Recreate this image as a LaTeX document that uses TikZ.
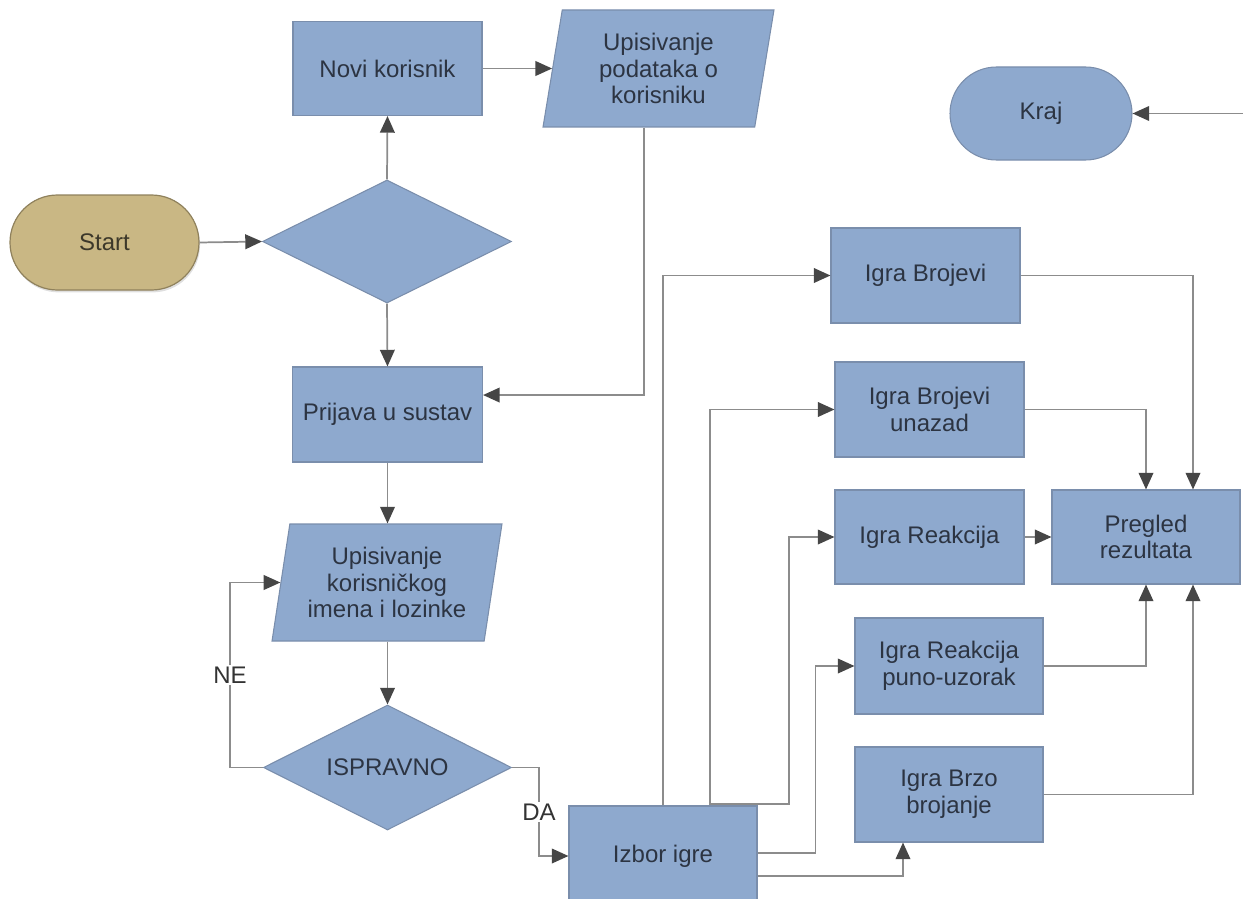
\documentclass[tikz,border=0pt]{standalone}
\usepackage{fontspec}
\setmainfont{Liberation Sans}
\usetikzlibrary{shapes.geometric,shapes.misc,arrows.meta,shadows}
\definecolor{boxfill}{RGB}{142,169,206}
\definecolor{boxborder}{RGB}{122,142,172}
\definecolor{startfill}{RGB}{201,183,132}
\definecolor{startborder}{RGB}{143,129,92}
\definecolor{txt}{RGB}{44,52,66}
\definecolor{starttxt}{RGB}{60,56,42}
\definecolor{linegray}{RGB}{140,140,140}
\definecolor{arrowdark}{RGB}{70,70,70}
\begin{document}
\begin{tikzpicture}[x=0.75pt,y=-0.75pt,
  font=\fontsize{18pt}{20pt}\selectfont,
  sz/.style 2 args={minimum width=#1*0.75pt, minimum height=#2*0.75pt},
  box/.style={rectangle, fill=boxfill, draw=boxborder, line width=0.8pt, text=txt, align=center, inner sep=0pt},
  term/.style={rounded rectangle, fill=boxfill, draw=boxborder, line width=0.8pt, text=txt, inner sep=0pt},
  startterm/.style={rounded rectangle, fill=startfill, draw=startborder, line width=0.9pt, text=starttxt, inner sep=0pt,
    drop shadow={opacity=0.25, shadow xshift=0.8pt, shadow yshift=-1.8pt}},
  dia/.style={diamond, aspect=2, fill=boxfill, draw=boxborder, line width=0.8pt, text=txt, inner sep=0pt},
  para/.style={trapezium, trapezium stretches=true, fill=boxfill, draw=boxborder, line width=0.8pt, text=txt, align=center, inner sep=0pt},
  conn/.style={draw=linegray, line width=1.3pt, -{Triangle[length=12.5pt,width=11pt,color=arrowdark]}},
  lbl/.style={fill=white, inner sep=1.5pt, text=black!80}
]
\useasboundingbox (0,0) rectangle (1243,899);

% nodes
\node[startterm, sz={189}{95}] (start) at (104.5,242.5) {Start};
\node[dia, sz={249}{123}] (d1) at (387,241.5) {};
\node[box, sz={189}{94}] (novi) at (387.5,68.5) {Novi korisnik};
\node[para, sz={231}{117}, trapezium left angle=80.5, trapezium right angle=99.5] (u1) at (658.5,68.5) {Upisivanje\\podataka o\\korisniku};
\node[term, sz={182}{93}] (kraj) at (1041,113.5) {Kraj};
\node[box, sz={190}{95}] (prijava) at (387.5,414.5) {Prijava u sustav};
\node[para, sz={230}{117}, trapezium left angle=78.4, trapezium right angle=101.6] (u2) at (387,582.5) {Upisivanje\\korisničkog\\imena i lozinke};
\node[dia, sz={248}{125}] (isp) at (387.5,767.5) {ISPRAVNO};
\node[box, sz={188}{100}] (izbor) at (663,856) {Izbor igre};
\node[box, sz={189}{95}] (b1) at (925.5,275.5) {Igra Brojevi};
\node[box, sz={189}{95}] (b2) at (929.5,409.5) {Igra Brojevi\\unazad};
\node[box, sz={189}{94}] (b3) at (929.5,537) {Igra Reakcija};
\node[box, sz={188}{96}] (b4) at (949,666) {Igra Reakcija\\puno-uzorak};
\node[box, sz={188}{95}] (b5) at (949,794.5) {Igra Brzo\\brojanje};
\node[box, sz={188}{94}] (preg) at (1146,537) {Pregled\\rezultata};
\coordinate (kin) at (1243,113.5);

% connectors
\draw[conn] (start.east) -- (d1.west);
\draw[conn] (d1.north) -- (novi.south);
\draw[conn] (novi.east) -- (u1.left side);
\draw[conn] ([xshift=-10.9pt]u1.south) |- ([yshift=14.6pt]prijava.east);
\draw[conn] (d1.south) -- (prijava.north);
\draw[conn] (prijava.south) -- (prijava.south |- u2.north);
\draw[conn] (isp.north |- u2.south) -- (isp.north);
\draw[conn] (isp.west) -- ++(-33,0) |- node[lbl, pos=0.25] {NE} (u2.left side);
\draw[conn] (isp.east) -- ++(27,0) |- node[lbl, pos=0.25] {DA} (izbor.west);
\draw[conn] (izbor.north) |- (b1.west);
\draw[conn] ([xshift=35.25pt]izbor.north) |- (b2.west);
\draw[conn] ([xshift=35.25pt,yshift=1pt]izbor.north) -- ++(79,0) |- (b3.west);
\draw[conn] ([yshift=2.25pt]izbor.east) -- ++(58,0) |- (b4.west);
\draw[conn] ([yshift=-15pt]izbor.east) -| ([xshift=-34.5pt]b5.south);
\draw[conn] (b1.east) -| ([xshift=35.25pt]preg.north);
\draw[conn] (b2.east) -| (preg.north);
\draw[conn] (b3.east) -- (preg.west);
\draw[conn] (b4.east) -| (preg.south);
\draw[conn] (b5.east) -| ([xshift=35.25pt]preg.south);
\draw[conn] (kin) -- (kraj.east);
\end{tikzpicture}
\end{document}
